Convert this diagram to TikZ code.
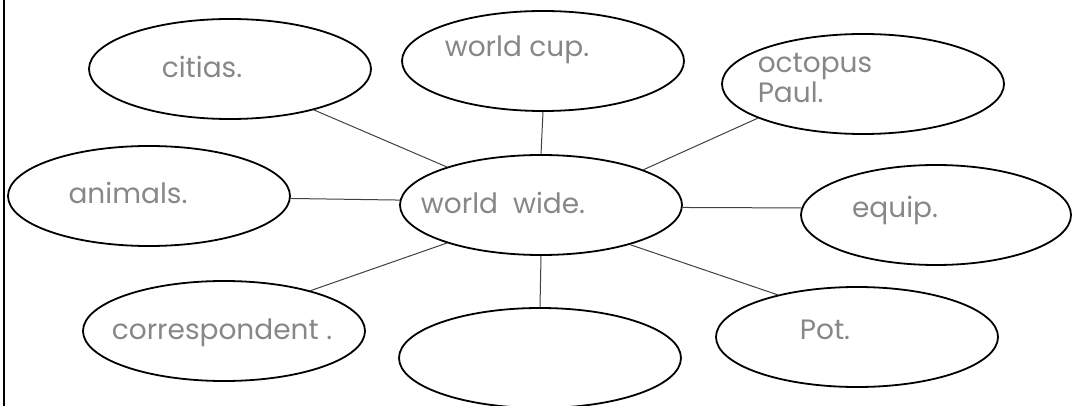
\documentclass[tikz,border=0pt]{standalone}
\usepackage{fontspec}
\setmainfont{Poppins}
\usepackage{xcolor}
\usepackage{tikz}
\usetikzlibrary{shapes.geometric}
\definecolor{pencil}{RGB}{135,135,135}

\begin{document}
\begin{tikzpicture}[
  x=0.5pt, y=-0.5pt,
  bubble/.style = {draw, ellipse, line width=0.9pt, inner sep=0pt,
                   minimum width=141pt, minimum height=50pt},
  hand/.style   = {text=pencil, inner sep=0pt, align=left,
                   font=\fontsize{14}{15}\selectfont},
  link/.style   = {draw=black!75, line width=0.5pt},
]
  \useasboundingbox (0,0) rectangle (1074,406);
  \draw[line width=1pt] (4,0) -- (4,406);

  \node[bubble] (ww)    at (541,205) {};
  \node[bubble] (cities) at (230,69) {};
  \node[bubble] (wcup)  at (543,61)  {};
  \node[bubble] (octo)  at (863,84)  {};
  \node[bubble] (anim)  at (149,196) {};
  \node[bubble, minimum width=135pt] (equip) at (936,215) {};
  \node[bubble] (corr)  at (224,331) {};
  \node[bubble] (blank) at (540,358) {};
  \node[bubble] (pot)   at (857,337) {};

  \node[hand] (ww-t)     at (503,203) {world\ \ wide.};
  \node[hand] (cities-t) at (202,67)  {citias.};
  \node[hand] (wcup-t)   at (517,50)  {world cup.};
  \node[hand] (octo-t)   at (815,78)  {octopus\\Paul.};
  \node[hand] (anim-t)   at (128,193) {animals.};
  \node[hand] (equip-t)  at (895,210) {equip.};
  \node[hand] (corr-t)   at (222,333) {correspondent .};
  \node[hand] (pot-t)    at (825,330) {Pot.};

  \draw[link] (cities.-26) -- (ww.158);
  \draw[link] (wcup.south) -- (ww.north);
  \draw[link] (octo.198)   -- (ww.19);
  \draw[link] (anim.-1)    -- (ww.178);
  \draw[link] (ww.-1)      -- (equip.177);
  \draw[link] (ww.202)     -- (corr.25);
  \draw[link] (ww.south)   -- (blank.north);
  \draw[link] (ww.-24)     -- (pot.152);
\end{tikzpicture}
\end{document}
